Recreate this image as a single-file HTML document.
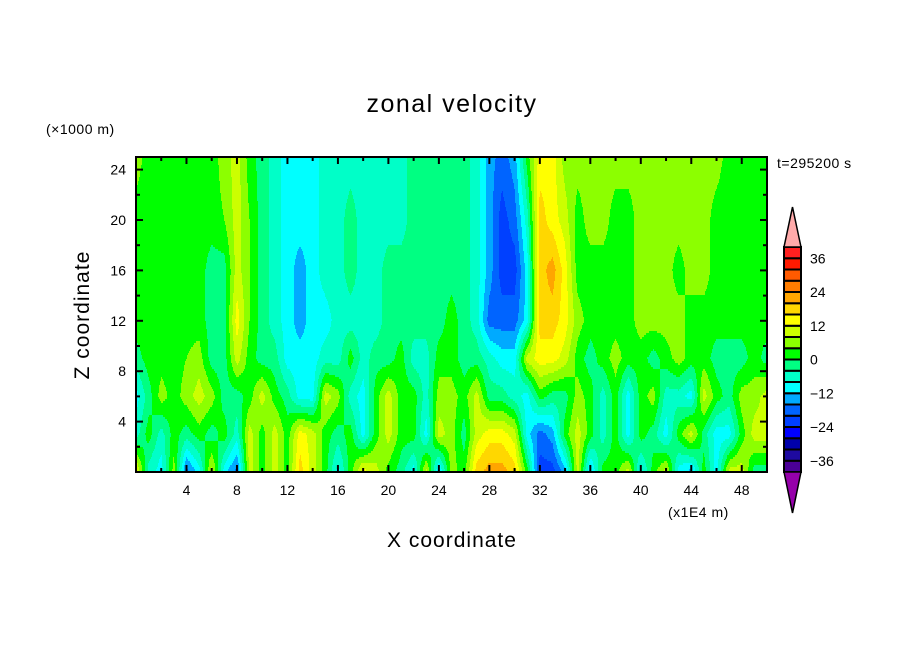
<!DOCTYPE html>
<html><head><meta charset="utf-8"><style>
body{margin:0;background:#fff;}
svg{display:block;font-family:"Liberation Sans","DejaVu Sans",sans-serif;}
</style></head><body>
<svg id="chart" width="904" height="654" viewBox="0 0 904 654">
<rect width="904" height="654" fill="#fff"/>
<text x="452" y="112" font-size="25" text-anchor="middle" letter-spacing="1.5">zonal velocity</text>
<text x="46" y="134" font-size="14" letter-spacing="0.5">(×1000 m)</text>
<text x="777" y="168" font-size="14" letter-spacing="0.5">t=295200 s</text>
<text x="668" y="517" font-size="14" letter-spacing="0.5">(x1E4 m)</text>
<text x="452" y="547" font-size="21" text-anchor="middle" letter-spacing="1">X coordinate</text>
<text transform="translate(89,315) rotate(-90)" font-size="21" text-anchor="middle" letter-spacing="1">Z coordinate</text>
<g id="field"></g>
<g id="axes"></g>
<g id="cbar"></g>
</svg>
<script>
const zLevels = [0, 3, 6, 9, 12, 16, 20, 25];
const row0 = [14,-6,-10,6,-18,-10,10,-10,-18,10,2,10,2,18,10,2,-10,2,14,10,2,-2,-10,10,-14,6,2,18,22,22,18,2,-22,-22,-14,10,-14,2,2,10,-10,2,10,-10,-14,2,-10,10,10,-2,-2];
const row3 = [-6,2,-6,2,-2,2,-2,2,-6,10,2,10,2,14,10,2,-2,2,-10,2,10,2,2,-10,10,6,-2,10,14,14,10,-10,-18,-14,2,10,2,-6,2,-10,2,-2,-10,2,10,-2,-10,-10,2,10,10];
const row6 = [-10,-2,6,2,6,10,6,-2,-2,2,10,2,-2,-10,-10,10,6,-6,-10,2,10,2,2,-6,6,6,2,10,-2,-2,-6,-10,2,-2,-2,6,2,-6,2,-10,2,6,-6,-6,-10,10,2,-2,6,6,10];
const row9 = [-2,2,2,2,4,6,-2,-2,10,2,-2,-2,-10,-10,-10,-6,-6,2,-6,-2,-2,2,-6,-6,2,2,-2,-2,-6,-10,-10,10,14,14,10,2,-2,2,6,2,2,-2,2,6,2,2,-2,-2,-2,2,-2];
const row12 = [2,2,2,2,2,2,-2,-2,14,4,-2,-6,-10,-14,-10,-10,-6,-6,-6,-6,-2,-2,-2,-2,-2,2,-2,-6,-18,-18,-18,-10,18,18,14,6,2,2,2,2,6,6,6,6,2,2,2,2,2,2,2];
const row16 = [2,2,2,2,2,2,-2,-2,10,4,-2,-6,-10,-14,-10,-6,-6,-2,-6,-6,-2,-2,-2,-2,-2,-2,-2,-6,-14,-22,-22,-10,18,22,14,2,2,2,2,2,6,6,6,2,6,6,2,2,2,2,2];
const row20 = [2,2,2,2,2,2,2,4,10,4,-2,-6,-10,-10,-10,-6,-6,-2,-6,-6,-6,-6,-2,-2,-2,-2,-2,-6,-14,-22,-18,-6,18,14,10,2,6,6,2,2,6,6,6,6,6,6,2,2,2,2,2];
const row25 = [6,2,2,2,2,2,2,6,10,2,-2,-6,-10,-10,-10,-6,-6,-6,-6,-6,-6,-6,-2,-2,-2,-2,-2,-6,-14,-18,-14,2,14,14,6,6,6,6,6,6,6,6,6,6,6,6,6,2,2,2,2];
const rows = [row0,row3,row6,row9,row12,row16,row20,row25];
const levelColors = ["#4b0096","#1e0aa0","#0000aa","#0000ff","#0040ff","#0064ff","#00aaff","#00ffff","#00ffc8","#00ff82","#00ff00","#8cff00","#ccff00","#ffff00","#ffd700","#ffa500","#ff7d00","#ff5a00","#ff1a00","#ff2020"];
const cbarLabels = [36,24,12,0,-12,-24,-36];
const xTicks = [4,8,12,16,20,24,28,32,36,40,44,48];
const yTicks = [4,8,12,16,20,24];

const NS="http://www.w3.org/2000/svg";
const X0=136,X1=767,Y0=472,Y1=157,XMAX=50,ZMAX=25;
const sx=x=>X0+(X1-X0)*x/XMAX, sy=z=>Y0-(Y0-Y1)*z/ZMAX;
const ix=px=>(px-X0)/(X1-X0)*XMAX, iz=py=>(Y0-py)/(Y0-Y1)*ZMAX;
function val(x,z){
  let k=0; while(k<zLevels.length-2 && z>zLevels[k+1]) k++;
  const t=Math.max(0,Math.min(1,(z-zLevels[k])/(zLevels[k+1]-zLevels[k])));
  const i=Math.max(0,Math.min(49,Math.floor(x))), u=Math.max(0,Math.min(1,x-i));
  const a=rows[k][i]*(1-u)+rows[k][i+1]*u, b=rows[k+1][i]*(1-u)+rows[k+1][i+1]*u;
  return a*(1-t)+b*t;
}
function colorOf(v){let i=Math.floor((v+40)/4);i=Math.max(0,Math.min(19,i));return levelColors[i];}
function mk(tag,attrs,parent){const e=document.createElementNS(NS,tag);for(const k in attrs)e.setAttribute(k,attrs[k]);parent.appendChild(e);return e;}
const field=document.getElementById('field');
const H=2;
for(let py=Y1;py<Y0;py+=H){
  const z=iz(py+H/2);let start=X0,cur=null;
  for(let px=X0;px<=X1;px++){
    const c=px<X1?colorOf(val(ix(px+0.5),z)):null;
    if(c!==cur){
      if(cur){const r=mk('rect',{x:start,y:py,width:px-start,height:Math.min(H,Y0-py),fill:cur},field);
        
        }
      cur=c;start=px;
    }
  }
}
const axes=document.getElementById('axes');
mk('rect',{x:X0,y:Y1,width:X1-X0,height:Y0-Y1,fill:'none',stroke:'#000','stroke-width':2},axes);
for(let x=2;x<XMAX;x+=2){const L=x%4===0?7:4;const p=sx(x);
  mk('line',{x1:p,y1:Y0,x2:p,y2:Y0-L,stroke:'#000','stroke-width':2},axes);
  mk('line',{x1:p,y1:Y1,x2:p,y2:Y1+L,stroke:'#000','stroke-width':2},axes);}
for(let z=2;z<ZMAX;z+=2){const L=z%4===0?7:4;const p=sy(z);
  mk('line',{x1:X0,y1:p,x2:X0+L,y2:p,stroke:'#000','stroke-width':2},axes);
  mk('line',{x1:X1,y1:p,x2:X1-L,y2:p,stroke:'#000','stroke-width':2},axes);}
xTicks.forEach(v=>{const t=mk('text',{x:sx(v),y:Y0+23,'font-size':14,'text-anchor':'middle'},axes);t.textContent=v;
  
  });
yTicks.forEach(v=>{const t=mk('text',{x:X0-10,y:sy(v)+5,'font-size':14,'text-anchor':'end'},axes);t.textContent=v;
  
  });
const cb=document.getElementById('cbar');
const CX=784,CW=17,CT=247,CB=472,bh=(CB-CT)/20;
for(let i=0;i<20;i++){const r=mk('rect',{x:CX,y:CB-(i+1)*bh,width:CW,height:bh,fill:levelColors[i],stroke:'#000','stroke-width':2},cb);
  
  }
mk('polygon',{points:`${CX},${CT} ${CX+CW},${CT} ${CX+CW/2},207`,fill:'#ffaaaa',stroke:'#000','stroke-width':1.5},cb);
mk('polygon',{points:`${CX},${CB} ${CX+CW},${CB} ${CX+CW/2},513`,fill:'#9600aa',stroke:'#000','stroke-width':1.5},cb);
cbarLabels.forEach(v=>{const y=CT+(40-v)/80*(CB-CT);const t=mk('text',{x:810,y:y+5,'font-size':14},cb);
  t.textContent=v<0?'\u2212'+(-v):v;
  
  });
</script>
</body></html>
